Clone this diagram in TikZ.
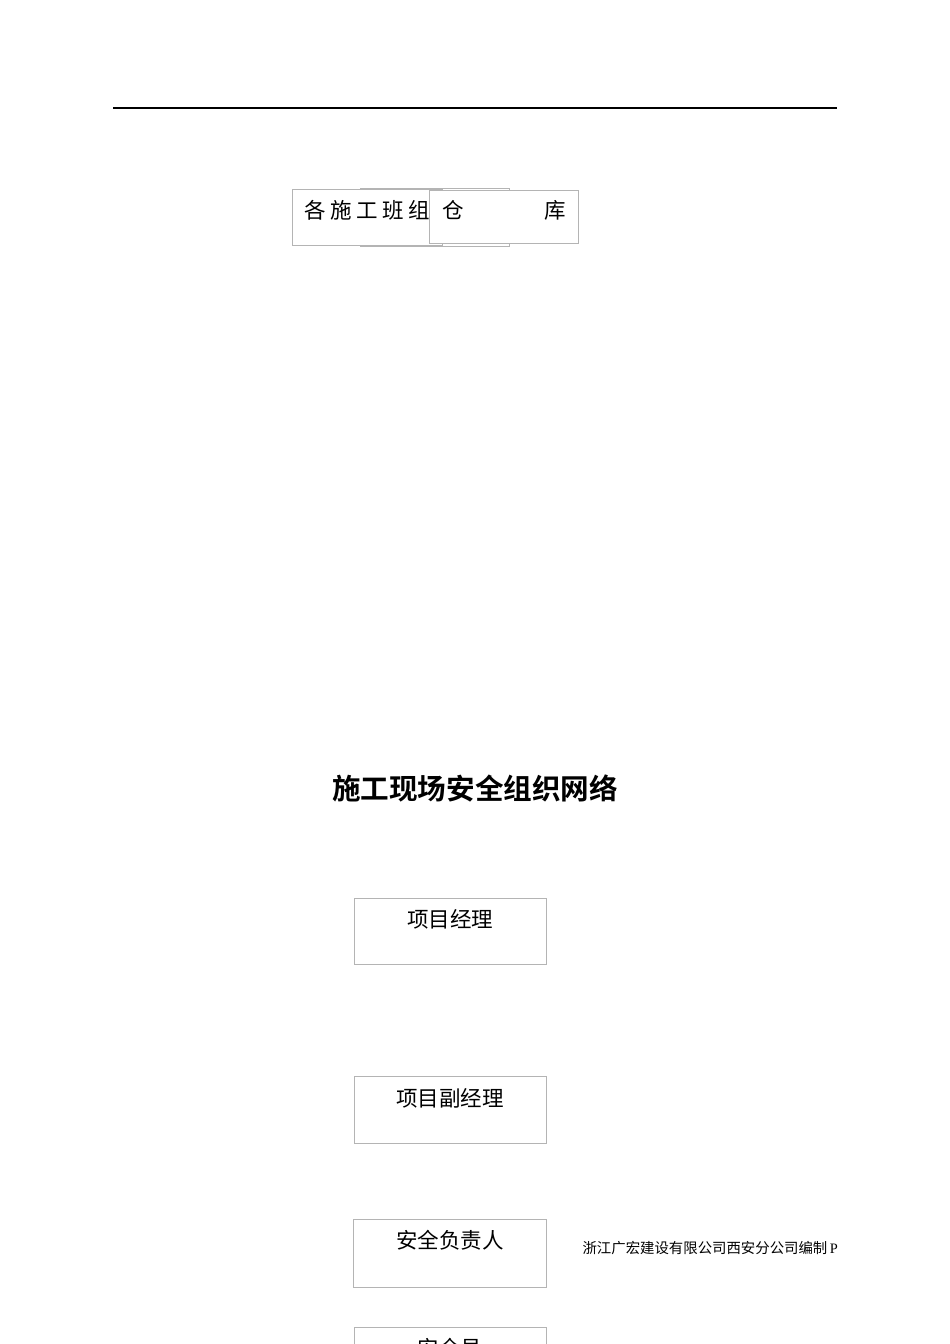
\documentclass[tikz,border=0pt]{standalone}
\usepackage{fontspec}
\newfontfamily\cjk{Noto Sans CJK SC}
\newfontfamily\cjkbold{Noto Sans CJK SC Bold}
\newfontfamily\serifl{Liberation Serif}
\definecolor{boxgray}{HTML}{B4B4B4}
\tikzset{
  boxnode/.style={draw=boxgray, line width=1pt, fill=white, inner sep=0pt},
  lbl/.style={inner sep=0pt, font=\cjk\fontsize{21.5}{21.5}\selectfont},
  titlelbl/.style={inner sep=0pt, font=\cjkbold\fontsize{28.6}{28.6}\selectfont},
  footlbl/.style={inner sep=0pt, font=\cjk\fontsize{14.4}{14.4}\selectfont},
  rule/.style={line width=1.7pt, black}
}
\begin{document}
\begin{tikzpicture}[x=1pt,y=-1pt]
\useasboundingbox (0,0) rectangle (950,1344);
\clip (0,0) rectangle (950,1344);
\fill[white] (0,0) rectangle (950,1344);
% header rule
\coordinate (hl) at (113,108);
\coordinate (hr) at (837,108);
\draw[rule] (hl) -- (hr);
% top boxes
\node[boxnode, minimum width=149, minimum height=58] (boxb) at (434.5,217) {};
\node[boxnode, minimum width=150, minimum height=56] (boxa) at (367,217) {};
\node[boxnode, minimum width=149, minimum height=53] (boxc) at (503.5,216.5) {};
\node[lbl] (ta) at (367.5,210) {各\hspace{4.5pt}施\hspace{4.5pt}工\hspace{4.5pt}班\hspace{4.5pt}组};
\node[lbl] (tc1) at (453,210) {仓};
\node[lbl] (tc2) at (555.5,210) {库};
% title
\node[titlelbl] (title) at (475,788) {施工现场安全组织网络};
% lower boxes
\node[boxnode, minimum width=192, minimum height=66] (pm) at (450,931) {};
\node[lbl] (tpm) at (450,919) {项目经理};
\node[boxnode, minimum width=192, minimum height=67] (vpm) at (450,1109.5) {};
\node[lbl] (tvpm) at (450,1098) {项目副经理};
\node[boxnode, minimum width=193, minimum height=68] (sh) at (449.5,1253) {};
\node[lbl] (tsh) at (450,1240) {安全负责人};
\node[boxnode, minimum width=192, minimum height=68] (so) at (450,1361) {};
\node[lbl] (tso) at (450,1348) {安全员};
% footer
\node[footlbl, anchor=east] (foot) at (838,1248) {浙江广宏建设有限公司西安分公司编制{\serifl\fontsize{14.4}{14.4}\selectfont\,P}};
\end{tikzpicture}
\end{document}
